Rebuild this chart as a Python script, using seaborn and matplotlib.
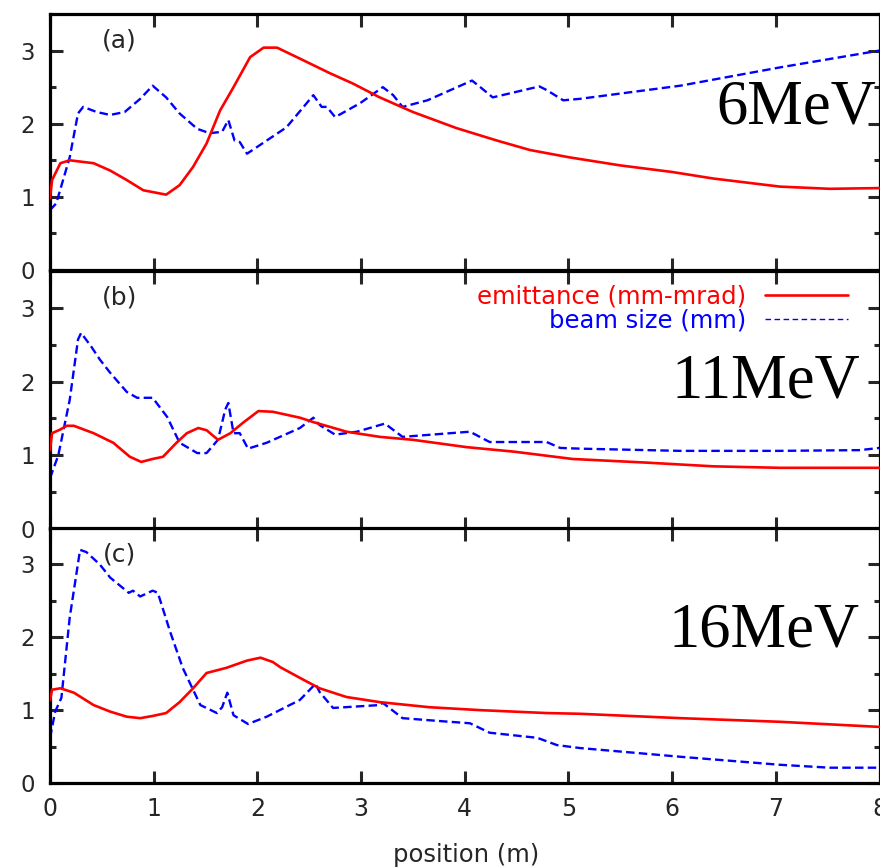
import numpy as np
import pandas as pd
import matplotlib
matplotlib.use("Agg")
import matplotlib.pyplot as plt
from matplotlib.lines import Line2D
from matplotlib.ticker import MultipleLocator
import seaborn as sns

# panel (a) 6 MeV
a_emit_x = [0, 0.02, 0.1, 0.19, 0.42, 0.58, 0.74, 0.9, 1.12, 1.25, 1.38, 1.51, 1.64, 1.77, 1.93, 2.06,
            2.19, 2.41, 2.7, 2.92, 3.18, 3.5, 3.92, 4.31, 4.63, 5.01, 5.5, 6.0, 6.4, 7.04, 7.52, 8.0]
a_emit_y = [0.98, 1.23, 1.46, 1.50, 1.46, 1.36, 1.23, 1.09, 1.03, 1.16, 1.41, 1.73, 2.18, 2.5, 2.91, 3.04,
            3.04, 2.89, 2.69, 2.55, 2.36, 2.16, 1.94, 1.77, 1.64, 1.54, 1.43, 1.34, 1.25, 1.14, 1.11, 1.12]
a_beam_x = [0, 0.06, 0.19, 0.27, 0.32, 0.45, 0.58, 0.72, 0.87, 0.99, 1.12, 1.25, 1.42, 1.54, 1.66, 1.72,
            1.78, 1.83, 1.9, 2.09, 2.28, 2.54, 2.62, 2.67, 2.75, 2.99, 3.21, 3.31, 3.4, 3.64, 4.07, 4.15,
            4.27, 4.72, 4.79, 4.95, 5.11, 6.08, 7.04, 8.0]
a_beam_y = [0.82, 0.91, 1.54, 2.14, 2.23, 2.16, 2.12, 2.16, 2.34, 2.52, 2.36, 2.14, 1.93, 1.87, 1.89, 2.05,
            1.77, 1.75, 1.59, 1.77, 1.95, 2.39, 2.23, 2.23, 2.09, 2.28, 2.5, 2.39, 2.23, 2.32, 2.59, 2.5,
            2.36, 2.51, 2.46, 2.32, 2.34, 2.52, 2.77, 3.0]

# panel (b) 11 MeV
b_emit_x = [0, 0.02, 0.1, 0.16, 0.23, 0.42, 0.61, 0.77, 0.88, 0.99, 1.09, 1.22, 1.32, 1.43, 1.51, 1.62,
            1.74, 1.86, 2.01, 2.15, 2.41, 2.54, 2.86, 3.18, 3.5, 4.02, 4.47, 5.04, 5.76, 6.4, 7.04, 8.0]
b_emit_y = [1.07, 1.3, 1.35, 1.4, 1.4, 1.3, 1.17, 0.98, 0.91, 0.95, 0.98, 1.17, 1.3, 1.37, 1.34, 1.21,
            1.3, 1.44, 1.6, 1.59, 1.51, 1.45, 1.32, 1.25, 1.21, 1.11, 1.05, 0.95, 0.9, 0.85, 0.83, 0.83]
b_beam_x = [0, 0.08, 0.19, 0.27, 0.3, 0.4, 0.48, 0.58, 0.74, 0.84, 0.99, 1.13, 1.25, 1.42, 1.51, 1.62,
            1.69, 1.72, 1.77, 1.83, 1.91, 2.09, 2.41, 2.54, 2.6, 2.75, 2.96, 3.23, 3.4, 4.05, 4.24, 4.79,
            4.92, 5.11, 6.08, 7.04, 7.81, 8.0]
b_beam_y = [0.69, 1.0, 1.75, 2.57, 2.66, 2.47, 2.3, 2.12, 1.86, 1.78, 1.78, 1.52, 1.17, 1.03, 1.03, 1.21,
            1.62, 1.71, 1.3, 1.3, 1.09, 1.17, 1.37, 1.51, 1.41, 1.28, 1.32, 1.43, 1.25, 1.32, 1.18, 1.18,
            1.1, 1.09, 1.06, 1.06, 1.07, 1.1]

# panel (c) 16 MeV
c_emit_x = [0, 0.02, 0.1, 0.23, 0.42, 0.58, 0.74, 0.87, 0.99, 1.12, 1.25, 1.38, 1.51, 1.7, 1.9, 2.03,
            2.15, 2.22, 2.44, 2.6, 2.86, 3.18, 3.66, 4.15, 4.79, 5.11, 6.08, 7.04, 8.0]
c_emit_y = [1.14, 1.28, 1.3, 1.24, 1.07, 0.98, 0.91, 0.89, 0.92, 0.96, 1.11, 1.3, 1.51, 1.58, 1.68, 1.72,
            1.66, 1.59, 1.42, 1.3, 1.18, 1.11, 1.04, 1.0, 0.96, 0.95, 0.89, 0.84, 0.77]
c_beam_x = [0, 0.05, 0.11, 0.19, 0.29, 0.35, 0.48, 0.58, 0.76, 0.8, 0.87, 0.99, 1.04, 1.16, 1.28, 1.45,
            1.61, 1.66, 1.71, 1.77, 1.91, 2.09, 2.41, 2.56, 2.6, 2.73, 3.18, 3.21, 3.4, 3.76, 4.05, 4.24,
            4.7, 4.89, 5.11, 6.08, 7.04, 7.52, 8.0]
c_beam_y = [0.62, 0.98, 1.17, 2.27, 3.2, 3.17, 3.0, 2.82, 2.61, 2.64, 2.56, 2.64, 2.61, 2.07, 1.58, 1.07,
            0.96, 1.04, 1.24, 0.93, 0.81, 0.91, 1.14, 1.36, 1.25, 1.03, 1.07, 1.1, 0.89, 0.85, 0.82, 0.69,
            0.62, 0.52, 0.48, 0.36, 0.25, 0.21, 0.21]

panel_tags = ["(a)", "(b)", "(c)"]
energies = ["6MeV", "11MeV", "16MeV"]
x_ticks = [0, 1, 2, 3, 4, 5, 6, 7, 8]
y_ticks = [0, 1, 2, 3]
legend_labels = ["emittance (mm-mrad)", "beam size (mm)"]

RED = "#ff0000"
BLUE = "#0000ff"


def main():
    sns.set_style("ticks")
    plt.rcParams["font.family"] = ["DejaVu Sans"]

    W, H = 880, 867
    fig = plt.figure(figsize=(W / 100, H / 100), dpi=100)

    # (top px, bottom px) of each panel
    boxes = [(14, 270), (271, 529), (528, 783)]
    left_px, right_px = 50, 879.5

    curves = [
        (a_emit_x, a_emit_y, a_beam_x, a_beam_y),
        (b_emit_x, b_emit_y, b_beam_x, b_beam_y),
        (c_emit_x, c_emit_y, c_beam_x, c_beam_y),
    ]
    # energy label anchor (x right edge, baseline y) in data units
    energy_pos = [(7.97, 2.0), (7.81, 1.79), (7.81, 1.87)]

    axes = []
    for i, (top, bot) in enumerate(boxes):
        ax = fig.add_axes([left_px / W, 1 - bot / H, (right_px - left_px) / W, (bot - top) / H])
        axes.append(ax)
        ex, ey, bx, by = curves[i]
        sns.lineplot(x=ex, y=ey, ax=ax, color=RED, lw=1.9, sort=False, estimator=None, zorder=3)
        sns.lineplot(x=bx, y=by, ax=ax, color=BLUE, lw=1.7, sort=False, estimator=None, zorder=2)
        ax.lines[-1].set_dashes((3.6, 1.8))

        ax.set_xlim(0, 8)
        ax.set_ylim(0, 3.5)
        ax.set_xticks(x_ticks)
        ax.set_yticks(y_ticks)
        ax.yaxis.set_minor_locator(MultipleLocator(0.5))
        ax.tick_params(which="both", direction="in", top=True, right=True, width=2.2)
        ax.tick_params(which="major", length=9)
        ax.tick_params(which="minor", length=4.5)
        ax.tick_params(axis="y", labelsize=16.5, pad=11)
        ax.tick_params(axis="x", labelsize=17, pad=10)
        for s in ax.spines.values():
            s.set_linewidth(2.3)
            s.set_color("black")
        if i < 2:
            ax.set_xticklabels([])

        ax.text(0.67, 3.14, panel_tags[i], ha="center", va="center", fontsize=18)
        ex_pos = energy_pos[i]
        ax.text(ex_pos[0], ex_pos[1], energies[i], ha="right", va="baseline",
                fontsize=45, family=["Liberation Serif", "DejaVu Serif"], color="black", zorder=1)
        ax.set_xlabel("")
        ax.set_ylabel("")

    handles = [
        Line2D([], [], color=RED, lw=1.9),
        Line2D([], [], color=BLUE, lw=1.0, dashes=(4, 2.5)),
    ]
    axes[1].legend(handles, legend_labels, loc="upper right",
                   bbox_to_anchor=(848 / W, 1 - 285 / H), bbox_transform=fig.transFigure,
                   frameon=False, markerfirst=False, labelcolor=[RED, BLUE], fontsize=17.5,
                   handlelength=3.4, handletextpad=0.8, labelspacing=0.0, borderpad=0,
                   borderaxespad=0)

    fig.text(466 / W, 1 - 855 / H, "position (m)", ha="center", va="center", fontsize=17.5)

    fig.savefig("out.png", dpi=100)
    plt.close(fig)


if __name__ == "__main__":
    main()
